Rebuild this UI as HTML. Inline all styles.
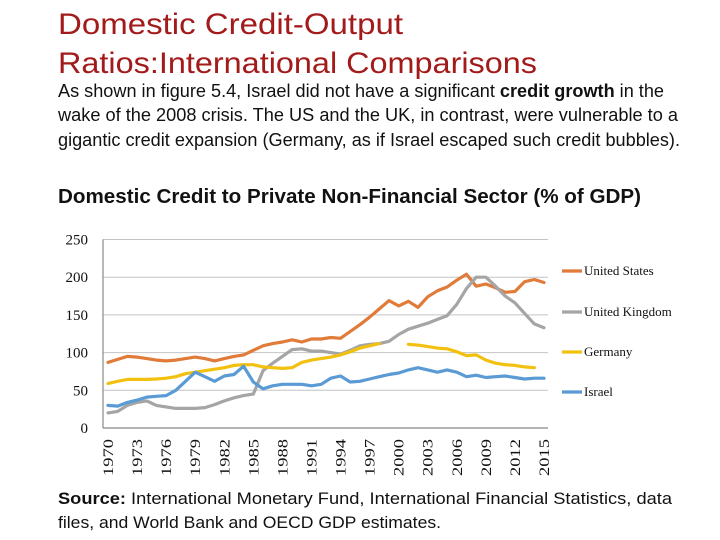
<!DOCTYPE html>
<html><head><meta charset="utf-8"><style>
html,body{margin:0;padding:0;background:#fff;width:720px;height:540px;overflow:hidden}
svg{display:block}
</style></head><body>
<svg id="chart" width="720" height="540" xmlns="http://www.w3.org/2000/svg">
<text x="58" y="34" font-family="Liberation Sans, sans-serif" font-size="30" fill="#a31a1a" textLength="345" lengthAdjust="spacingAndGlyphs">Domestic Credit-Output</text>
<text x="58" y="73" font-family="Liberation Sans, sans-serif" font-size="30" fill="#a31a1a" textLength="479" lengthAdjust="spacingAndGlyphs">Ratios:International Comparisons</text>
<g font-family="Liberation Sans, sans-serif" font-size="18" fill="#111">
<text x="58" y="97" textLength="606" lengthAdjust="spacingAndGlyphs">As shown in figure 5.4, Israel did not have a significant <tspan font-weight="bold">credit growth</tspan> in the</text>
<text x="58" y="121" textLength="620" lengthAdjust="spacingAndGlyphs">wake of the 2008 crisis. The US and the UK, in contrast, were vulnerable to a</text>
<text x="58" y="146" textLength="622" lengthAdjust="spacingAndGlyphs">gigantic credit expansion (Germany, as if Israel escaped such credit bubbles).</text>
</g>
<text x="58" y="203" font-family="Liberation Sans, sans-serif" font-size="20" font-weight="bold" fill="#111" textLength="583" lengthAdjust="spacingAndGlyphs">Domestic Credit to Private Non-Financial Sector (% of GDP)</text>
<g id="grid"></g>
<g id="yticks" font-family="Liberation Serif, serif" font-size="15" fill="#111" text-anchor="end"></g>
<g id="xticks" font-family="Liberation Serif, serif" font-size="15" fill="#111"></g>
<g id="series"></g>
<g id="legend" font-family="Liberation Serif, serif" font-size="13" fill="#111"></g>
<g font-family="Liberation Sans, sans-serif" font-size="17" fill="#111">
<text x="58" y="504" textLength="614" lengthAdjust="spacingAndGlyphs"><tspan font-weight="bold">Source:</tspan> International Monetary Fund, International Financial Statistics, data</text>
<text x="58" y="528" textLength="383" lengthAdjust="spacingAndGlyphs">files, and World Bank and OECD GDP estimates.</text>
</g>
</svg>
<script>
const years = [];
for (let y = 1970; y <= 2015; y++) years.push(y);
const yTickValues = [0, 50, 100, 150, 200, 250];
const xTickLabels = [1970,1973,1976,1979,1982,1985,1988,1991,1994,1997,2000,2003,2006,2009,2012,2015];
const seriesNames = ["United States","United Kingdom","Germany","Israel"];
const usValues = [87,91,95,94,92,90,89,90,92,94,92,89,92,95,97,103,109,112,114,117,114,118,118,120,119,128,137,147,158,169,162,168,160,174,182,187,196,204,188,191,186,180,181,194,197,193];
const ukValues = [20,22,30,34,36,30,28,26,26,26,27,31,36,40,43,45,76,86,95,104,105,102,102,100,98,103,109,111,112,115,124,131,135,139,144,149,164,185,200,200,188,175,166,152,138,133];
const deValues = [59,62,64.5,64.5,64.5,65,66,68,72,74,76,78,80,83,84,84,81,80,79,80,87,90,92,94,97,101,106,109,112,null,null,111,110,108,106,105,101,96,97,90,86,84,83,81,80,null];
const ilValues = [30,29,34,37,41,42,43,50,62,74,68,62,69,71,82,61,52,56,58,58,58,56,58,66,69,61,62,65,68,71,73,77,80,77,74,77,74,68,70,67,68,69,67,65,66,66];

const NS = "http://www.w3.org/2000/svg";
const X0 = 108, X1 = 544, Y0 = 428, YTOP = 239.5, VMAX = 250;
const xs = y => X0 + (y - 1970) * (X1 - X0) / 45;
const ys = v => Y0 - v * (Y0 - YTOP) / VMAX;
function mk(tag, attrs, parent){ const e = document.createElementNS(NS, tag); for (const k in attrs) e.setAttribute(k, attrs[k]); parent.appendChild(e); return e; }

const grid = document.getElementById('grid');
yTickValues.forEach(v => {
  const l = mk('line', {x1:103, x2:548, y1:ys(v), y2:ys(v), stroke: v===0 ? '#888' : '#c4c4c4', 'stroke-width': v===0 ? 1.2 : 1}, grid);
  
  
  const t = mk('text', {x:88, y:ys(v)+5}, document.getElementById('yticks'));
  t.textContent = v;
  
  
});
const ax = mk('line', {x1:103, x2:103, y1:YTOP, y2:Y0, stroke:'#888', 'stroke-width':1.2}, grid);



xTickLabels.forEach(y => {
  const x = xs(y) + 5;
  const t = mk('text', {x:x, y:476, transform:'rotate(-90 ' + x + ' 476)', textLength:37, lengthAdjust:'spacingAndGlyphs'}, document.getElementById('xticks'));
  t.textContent = y;
  
  
});

const colors = ['#e07b39','#a5a5a5','#f2c10f','#5b9bd5'];
const allValues = [usValues, ukValues, deValues, ilValues];
const legendY = [271, 312, 352, 392];
const sg = document.getElementById('series');
allValues.forEach((vals, i) => {
  let d = '', pen = false;
  vals.forEach((v, j) => {
    if (v === null) { pen = false; return; }
    d += (pen ? 'L' : 'M') + xs(years[j]).toFixed(1) + ' ' + ys(v).toFixed(1) + ' ';
    pen = true;
  });
  const p = mk('path', {d:d, fill:'none', stroke:colors[i], 'stroke-width':3.2, 'stroke-linejoin':'round', 'stroke-linecap':'round'}, sg);
  
  
  const lg = document.getElementById('legend');
  const ll = mk('line', {x1:562, x2:582, y1:legendY[i], y2:legendY[i], stroke:colors[i], 'stroke-width':3.2}, lg);
  
  
  const lt = mk('text', {x:584, y:legendY[i]+4}, lg);
  lt.textContent = seriesNames[i];
  
  
});
</script>
</body></html>
